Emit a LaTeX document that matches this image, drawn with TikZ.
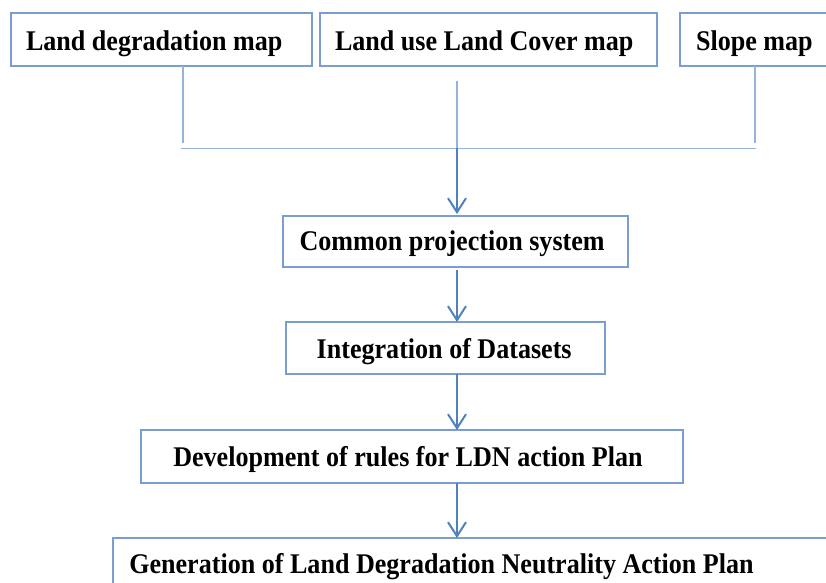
\documentclass[tikz,border=0pt]{standalone}
\usepackage{fontspec}
\setmainfont{Liberation Serif}[FakeStretch=0.915]
\usetikzlibrary{arrows.meta,calc}
\definecolor{boxblue}{RGB}{122,158,212}
\definecolor{linkblue}{RGB}{150,180,218}
\definecolor{arrowblue}{RGB}{79,129,189}
\begin{document}
\begin{tikzpicture}[x=1pt,y=-1pt,
  box/.style={draw=boxblue, line width=1.4pt, rectangle, anchor=north west,
    inner sep=0pt, outer sep=0pt, fill=white},
  lbl/.style={anchor=base west, inner sep=0pt, outer sep=0pt, text=black,
    font=\fontsize{28.5pt}{30pt}\selectfont\bfseries},
  link/.style={draw=linkblue, line width=1.4pt},
  arr/.style={draw=arrowblue, line width=2pt,
    -{Straight Barb[length=14pt,width=18pt,line width=2pt]}}]
\clip (0,0) rectangle (826,582);
\fill[white] (0,0) rectangle (826,582);
% boxes
\node[box, minimum width=301pt, minimum height=53pt] (ldm) at (11,13) {};
\node[box, minimum width=337pt, minimum height=53pt] (lulc) at (320,13) {};
\node[box, minimum width=180pt, minimum height=53pt] (slope) at (680,13) {};
\node[box, minimum width=345pt, minimum height=51pt] (cps) at (283,216) {};
\node[box, minimum width=319pt, minimum height=52pt] (int) at (286,322) {};
\node[box, minimum width=542pt, minimum height=53pt] (dev) at (141,430) {};
\node[box, minimum width=760pt, minimum height=53pt] (gen) at (113,538) {};
% labels
\node[lbl] (ldm-t) at (26,50.7) {Land degradation map};
\node[lbl] (lulc-t) at (335,50.7) {Land use Land Cover map};
\node[lbl] (slope-t) at (696,50.7) {Slope map};
\node[lbl] (cps-t) at (299.5,250.7) {Common projection system};
\node[lbl] (int-t) at (316.7,358.3) {Integration of Datasets};
\node[lbl] (dev-t) at (173.3,466) {Development of rules for LDN action Plan};
\node[lbl] (gen-t) at (129.3,573.3) {Generation of Land Degradation Neutrality Action Plan};
% connector points
\coordinate (hub) at (457,148.3);
\coordinate (hl) at (181,148.3);
\coordinate (hr) at (756,148.3);
\coordinate (ldmend) at (183,143);
\coordinate (slend) at (755,143);
\coordinate (lulcstart) at (457,80.7);
% thin links
\draw[link] (ldmend |- ldm.south) -- (ldmend);
\draw[link] (slend |- slope.south) -- (slend);
\draw[link] (lulcstart) -- (hub);
\draw[link] (hl) -- (hr);
% arrows
\draw[arr, shorten >=2pt] (hub) -- (cps.north -| hub);
\draw[arr, shorten <=3pt] (cps.south -| hub) -- (int.north -| hub);
\draw[arr] (int.south -| hub) -- (dev.north -| hub);
\draw[arr] (dev.south -| hub) -- (gen.north -| hub);
\end{tikzpicture}
\end{document}
